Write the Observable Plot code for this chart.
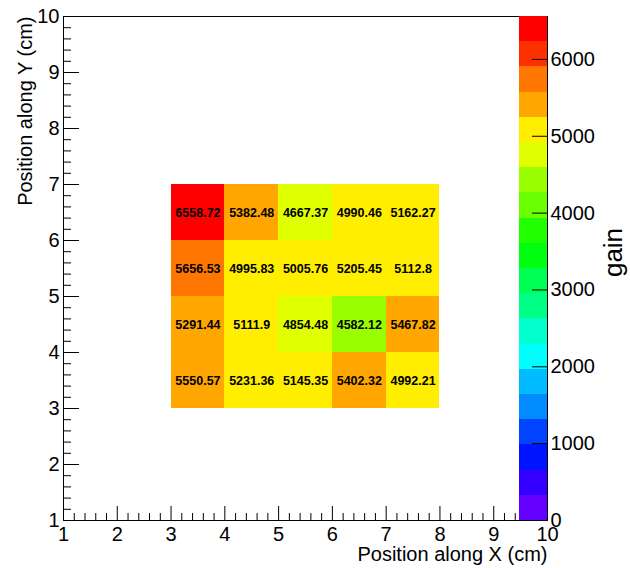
<!DOCTYPE html>
<html>
<head>
<meta charset="utf-8">
<script src="https://cdn.jsdelivr.net/npm/d3@7"></script>
<script src="https://cdn.jsdelivr.net/npm/@observablehq/plot@0.6"></script>
<style>
  html, body { margin: 0; padding: 0; background: #fff; }
  #chart { position: relative; width: 630px; height: 568px; }
  #chart svg { position: absolute; left: 0; top: 0; }
</style>
</head>
<body>
<div id="chart"></div>
<script>
// ---- data ----
const xBins = [3, 4, 5, 6, 7];           // lower edges of x bins (cm)
const gainY6 = [6558.72, 5382.48, 4667.37, 4990.46, 5162.27]; // y bin 6-7
const gainY5 = [5656.53, 4995.83, 5005.76, 5205.45, 5112.8];  // y bin 5-6
const gainY4 = [5291.44, 5111.9, 4854.48, 4582.12, 5467.82];  // y bin 4-5
const gainY3 = [5550.57, 5231.36, 5145.35, 5402.32, 4992.21]; // y bin 3-4
const yRows = [[6, gainY6], [5, gainY5], [4, gainY4], [3, gainY3]];

const xTicks = [1, 2, 3, 4, 5, 6, 7, 8, 9, 10];
const yTicks = [1, 2, 3, 4, 5, 6, 7, 8, 9, 10];
const zTicks = [0, 1000, 2000, 3000, 4000, 5000, 6000];
const palette = ["#6300ff", "#3300ff", "#0014ff", "#0044ff", "#008bff",
                 "#00bbff", "#00fffc", "#00ffcc", "#00ff85", "#00ff55",
                 "#00ff0e", "#22ff00", "#69ff00", "#99ff00", "#e0ff00",
                 "#ffee00", "#ffa700", "#ff7700", "#ff3000", "#ff0000"];

// ---- derived tables ----
const cells = [];
for (const [y, vals] of yRows) vals.forEach((v, i) => cells.push({x: xBins[i], y, v}));
const zMax = d3.max(cells, d => d.v);
const nLev = palette.length;
const thresholds = d3.range(1, nLev).map(k => k * zMax / nLev);
const bands = d3.range(nLev).map(k => ({lo: k * zMax / nLev, hi: (k + 1) * zMax / nLev, mid: (k + 0.5) * zMax / nLev}));
const xMinor = d3.range(1, 10.001, 0.2).filter(t => Math.abs(t - Math.round(t)) > 1e-6);
const yMinor = xMinor;

const FONT = "'Liberation Sans', Arial, Helvetica, sans-serif";
const W = 630, H = 568, ML = 63, MR = 83, MT = 16, MB = 48;
const frameW = W - ML - MR, frameH = H - MT - MB;
const colorOpts = {type: "threshold", domain: thresholds, range: palette};
const TICK_FS = 20;

const main = Plot.plot({
  width: W, height: H,
  marginLeft: ML, marginRight: MR, marginTop: MT, marginBottom: MB,
  style: {fontFamily: FONT, background: "white", color: "black"},
  x: {domain: [1, 10]},
  y: {domain: [1, 10]},
  color: colorOpts,
  marks: [
    Plot.rect(cells, {x1: "x", x2: d => d.x + 1, y1: "y", y2: d => d.y + 1, fill: "v", shapeRendering: "crispEdges"}),
    Plot.text(cells, {x: d => d.x + 0.5, y: d => d.y + 0.5, text: d => String(d.v),
                      fontWeight: "bold", fontSize: 12.5, fill: "black"}),
    Plot.ruleX(xMinor, {insetTop: frameH - 7, stroke: "black"}),
    Plot.ruleX(xTicks, {insetTop: frameH - 14, stroke: "black"}),
    Plot.ruleY(yMinor, {insetRight: frameW - 8, stroke: "black"}),
    Plot.ruleY(yTicks, {insetRight: frameW - 16, stroke: "black"}),
    Plot.axisX({ticks: xTicks, tickSize: 0, tickPadding: 6, fontSize: TICK_FS, label: null}),
    Plot.axisY({ticks: yTicks, tickSize: 0, tickPadding: 4, fontSize: TICK_FS, label: null}),
    Plot.frame({stroke: "black"}),
    Plot.text(["Position along X (cm)"], {frameAnchor: "bottom-right", dy: 34, textAnchor: "end",
                                          lineAnchor: "middle", fontSize: 20}),
    Plot.text(["Position along Y (cm)"], {frameAnchor: "top-left", dx: -38, rotate: -90, textAnchor: "end",
                                          lineAnchor: "middle", fontSize: 20})
  ]
});

const bar = Plot.plot({
  width: W, height: H,
  marginLeft: W - MR - 28, marginRight: MR, marginTop: MT, marginBottom: MB,
  style: {fontFamily: FONT, background: "transparent", color: "black"},
  x: {domain: [0, 1], axis: null},
  y: {domain: [0, zMax]},
  color: colorOpts,
  marks: [
    Plot.rect(bands, {y1: "lo", y2: "hi", fill: "mid", shapeRendering: "crispEdges"}),
    Plot.ruleY(zTicks, {insetLeft: 13, stroke: "black"}),
    Plot.ruleX([1], {stroke: "black"}),
    Plot.axisY({anchor: "right", ticks: zTicks, tickSize: 0, tickPadding: 3, fontSize: TICK_FS,
                tickFormat: d => String(d), label: null}),
    Plot.text(["gain"], {frameAnchor: "right", dx: 66, dy: -16, rotate: -90, textAnchor: "middle",
                         lineAnchor: "middle", fontSize: 26})
  ]
});

const el = document.getElementById("chart");
el.appendChild(main);
el.appendChild(bar);
</script>
</body>
</html>
